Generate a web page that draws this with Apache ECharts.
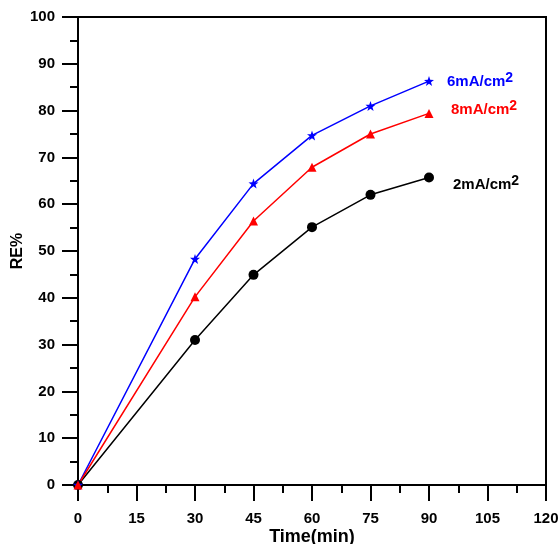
<!DOCTYPE html>
<html>
<head>
<meta charset="utf-8">
<script src="https://cdn.jsdelivr.net/npm/echarts@6/dist/echarts.min.js"></script>
<style>
  html, body { margin: 0; padding: 0; background: #fff; }
  #chart { width: 560px; height: 544px; }
</style>
</head>
<body>
<div id="chart"></div>
<script>
// time points (min)
var times = [0, 30, 45, 60, 75, 90];
// RE% per current density
var re2 = [0, 31.0, 44.9, 55.1, 62.0, 65.7];
var re6 = [0, 48.3, 64.4, 74.7, 81.0, 86.3];
var re8 = [0, 40.2, 56.4, 67.9, 75.0, 79.4];
var names = ['2', '6', '8'];

var star = 'path://M50 0 L61.8 33.8 L97.6 34.5 L69 56.2 L79.4 90.5 L50 70 L20.6 90.5 L31 56.2 L2.4 34.5 L38.2 33.8 Z';

function pairs(ys) {
  return times.map(function (t, i) { return [t, ys[i]]; });
}

function makeSeries(name, ys, color, symbol, size, offset) {
  return {
    name: name + 'mA/cm2',
    type: 'line',
    data: pairs(ys),
    symbol: symbol,
    symbolSize: size,
    showAllSymbol: true,
    lineStyle: { color: color, width: 1.5 },
    itemStyle: { color: color },
    emphasis: { disabled: true },
    endLabel: {
      show: true,
      offset: offset,
      formatter: '{a|' + name + 'mA/cm}{s|2}',
      rich: {
        a: { color: color, fontFamily: 'Liberation Sans', fontWeight: 'bold', fontSize: 15 },
        s: { color: color, fontFamily: 'Liberation Sans', fontWeight: 'bold', fontSize: 14, padding: [0, 0, 7, 0] }
      }
    }
  };
}

var chart = echarts.init(document.getElementById('chart'));
var txt = { color: '#000', fontFamily: 'Liberation Sans', fontWeight: 'bold', fontSize: 15 };

chart.setOption({
  backgroundColor: '#fff',
  animation: false,
  grid: {
    left: 78, right: 14, top: 17, bottom: 59,
    outerBoundsMode: 'none',
    containLabel: false,
    show: true, borderColor: '#000', borderWidth: 2, backgroundColor: 'transparent'
  },
  xAxis: {
    type: 'value',
    min: 0, max: 120, interval: 15,
    name: 'Time(min)',
    nameLocation: 'middle',
    nameGap: 43,
    nameMoveOverlap: false,
    nameTextStyle: { color: '#000', fontFamily: 'Liberation Sans', fontWeight: 'bold', fontSize: 18 },
    axisLine: { show: true, onZero: false, lineStyle: { color: '#000', width: 2 } },
    axisTick: { show: true, inside: false, length: 16, lineStyle: { color: '#000', width: 2 } },
    minorTick: { show: true, splitNumber: 2, length: 8, lineStyle: { color: '#000', width: 2 } },
    axisLabel: Object.assign({ margin: 26 }, txt),
    splitLine: { show: false }
  },
  yAxis: {
    type: 'value',
    min: 0, max: 100, interval: 10,
    name: 'RE%',
    nameLocation: 'middle',
    nameGap: 52,
    nameMoveOverlap: false,
    nameTextStyle: { color: '#000', fontFamily: 'Liberation Sans', fontWeight: 'bold', fontSize: 16 },
    axisLine: { show: true, onZero: false, lineStyle: { color: '#000', width: 2 } },
    axisTick: { show: true, inside: false, length: 16, lineStyle: { color: '#000', width: 2 } },
    minorTick: { show: true, splitNumber: 2, length: 8, lineStyle: { color: '#000', width: 2 } },
    axisLabel: Object.assign({ margin: 23 }, txt),
    splitLine: { show: false }
  },
  series: [
    makeSeries(names[0], re2, '#000000', 'circle', 10, [16, 7]),
    makeSeries(names[1], re6, '#0000ff', star, 10, [10, 1]),
    makeSeries(names[2], re8, '#ff0000', 'triangle', 9, [14, -4])
  ]
});
</script>
</body>
</html>
